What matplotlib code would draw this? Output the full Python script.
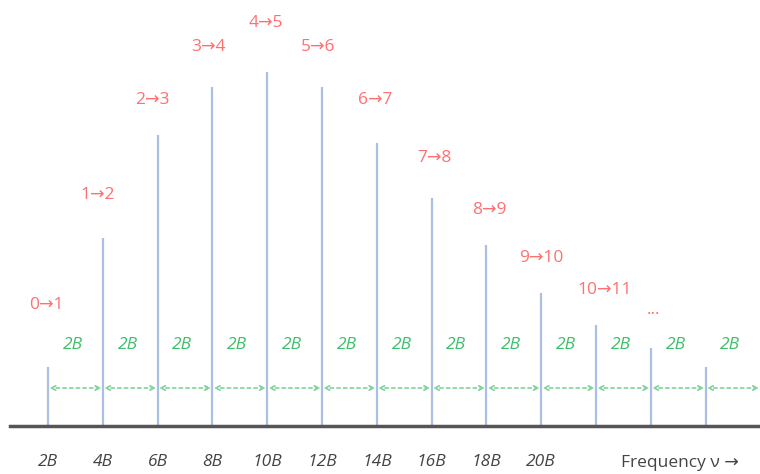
import matplotlib.pyplot as plt

# Rotational lines: transitions J -> J+1 at 2B(J+1)
freq = [2, 4, 6, 8, 10, 12, 14, 16, 18, 20, 22, 24, 26]
heights = [59, 188, 291, 339, 354, 339, 283, 228, 181, 133, 101, 78, 59]
trans = ["0→1", "1→2", "2→3", "3→4", "4→5", "5→6", "6→7", "7→8", "8→9",
         "9→10", "10→11", "..."]
trans_y = [121, 231, 326, 379, 403, 379, 326, 268, 216, 168, 136, 116]
tick_pos = [2, 4, 6, 8, 10, 12, 14, 16, 18, 20]
tick_txt = ["2B", "4B", "6B", "8B", "10B", "12B", "14B", "16B", "18B", "20B"]

plt.rcParams['font.family'] = ['Open Sans', 'DejaVu Sans']

fig = plt.figure(figsize=(7.6, 4.74), dpi=100)
ax = fig.add_axes([0, 0, 1, 1])
px = 27.4  # pixels per unit of B
ax.set_xlim(2 - 48 / px, 2 + 712 / px)
ax.set_ylim(-48, 426)

# spectral lines
ax.vlines(freq, 0, heights, color="#a9bfe3", lw=1.6)

# transition labels
offs = [-0.05, -0.2, -0.2, -0.15, -0.05, -0.15, -0.05, 0.1, 0.1, 0.0, 0.3, 0.1]
for f, t, y, o in zip(freq, trans, trans_y, offs):
    ax.text(f + o, y, t, color="#ff7070", fontsize=12.5, ha="center", va="center")

# spacing arrows
green = "#3dbf6a"
for f in freq:
    ax.annotate("", xy=(f, 38), xytext=(f + 2, 38),
                arrowprops=dict(arrowstyle="<->", color="#7fd39a", lw=1.2,
                                linestyle=(0, (2, 2)), shrinkA=1, shrinkB=1,
                                mutation_scale=8))
    ax.text(f + 1 - 0.1, 81, "2B", color=green, fontsize=12.5,
            style="italic", ha="center", va="center")

# frequency axis
for s in ["top", "left", "right"]:
    ax.spines[s].set_visible(False)
ax.spines["bottom"].set_position(("data", 0))
ax.spines["bottom"].set_bounds(2 - 38 / px, 2 + 712 / px)
ax.spines["bottom"].set_color("#555555")
ax.spines["bottom"].set_linewidth(2.5)
ax.set_yticks([])
ax.set_xticks(tick_pos)
ax.set_xticklabels(tick_txt, fontsize=12.5, color="#444444", style="italic")
ax.tick_params(axis="x", length=0, pad=20)
ax.text(2 + 632 / px, -37, "Frequency ν →", fontsize=12.5, color="#444444",
        ha="center", va="center")

fig.savefig("out.png", dpi=100)
